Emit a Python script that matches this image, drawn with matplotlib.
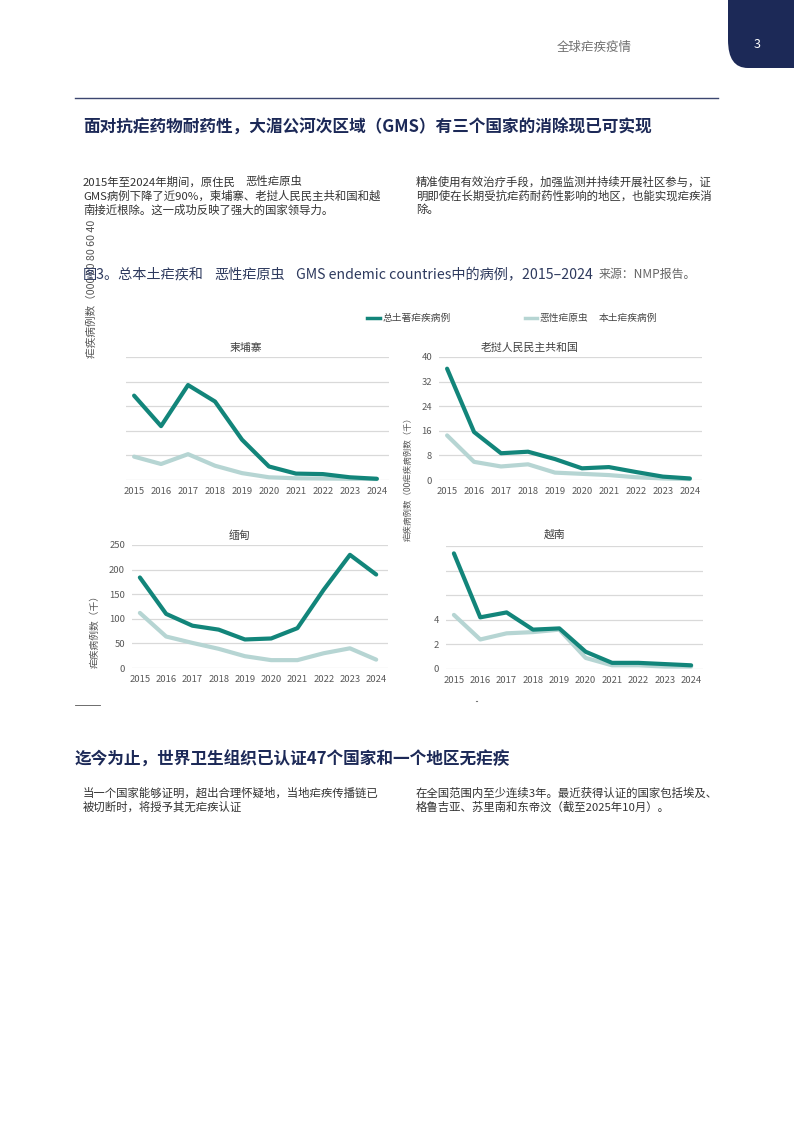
import matplotlib
matplotlib.use("Agg")
import matplotlib.pyplot as plt
from matplotlib.patches import FancyBboxPatch

plt.rcParams['font.family'] = ['Noto Sans CJK SC', 'DejaVu Sans']

# data (thousands of cases)
years = [2015, 2016, 2017, 2018, 2019, 2020, 2021, 2022, 2023, 2024]
cambodia_total = [34.3, 21.9, 38.6, 31.9, 16.4, 5.5, 2.6, 2.4, 1.1, 0.5]
cambodia_pf = [9.5, 6.5, 10.5, 5.8, 2.8, 1.1, 0.7, 0.6, 0.5, 0.4]
lao_total = [36.2, 15.6, 8.7, 9.2, 6.8, 3.8, 4.2, 2.6, 1.1, 0.5]
lao_pf = [14.5, 5.9, 4.4, 5.1, 2.4, 2.0, 1.6, 0.9, 0.5, 0.3]
myanmar_total = [184, 110, 86, 78, 58, 60, 81, 159, 230, 190]
myanmar_pf = [112, 64, 51, 39, 24, 16, 16, 30, 40, 17]
vietnam_total = [9.4, 4.2, 4.6, 3.2, 3.3, 1.4, 0.5, 0.5, 0.4, 0.3]
vietnam_pf = [4.4, 2.4, 2.9, 3.0, 3.2, 0.9, 0.3, 0.3, 0.2, 0.2]

TEAL = "#12857a"
LIGHT = "#b6d5d3"
NAVY = "#1c2957"
GREY = "#595959"

W, H = 794, 1123
fig = plt.figure(figsize=(W / 100, H / 100), dpi=100)
fig.patch.set_facecolor("white")


def px(x, y):
    return x / W, 1 - y / H


def put(x, y, s, **kw):
    fx, fy = px(x, y)
    fig.text(fx, fy, s, **kw)


# header tab
tab = FancyBboxPatch((px(728, 0)[0], px(0, 68)[1]), 0.2, 0.2,
                     boxstyle="round,pad=0,rounding_size=0.025",
                     transform=fig.transFigure, facecolor=NAVY, edgecolor="none")
fig.patches.append(tab)
put(757, 45, "3", color="white", fontsize=9, ha="center", va="center")
put(594, 47, "全球疟疾疫情", color="#6f6f6f", fontsize=9, ha="center", va="center")
fig.add_artist(plt.Line2D([75 / W, 718 / W], [px(0, 98)[1]] * 2,
                          color="#3c4770", lw=1.0, transform=fig.transFigure))

# section 1
put(83, 128, "面对抗疟药物耐药性，大湄公河次区域（GMS）有三个国家的消除现已可实现",
    color=NAVY, fontsize=12, fontweight="bold", va="center")
body_kw = dict(color="#333333", fontsize=8.2, va="center")
put(83, 182, "2015年至2024年期间，原住民", **body_kw)
put(245, 182, "恶性疟原虫", style="italic", **body_kw)
put(83, 196, "GMS病例下降了近90%，柬埔寨、老挝人民民主共和国和越", **body_kw)
put(83, 210, "南接近根除。这一成功反映了强大的国家领导力。", **body_kw)
put(416, 182, "精准使用有效治疗手段，加强监测并持续开展社区参与，证", **body_kw)
put(416, 196, "明即使在长期受抗疟药耐药性影响的地区，也能实现疟疾消", **body_kw)
put(416, 210, "除。", **body_kw)

# left vertical axis fragment
put(92, 358, "疟疾病例数（000 00 80 60 40", rotation=90, color="#555555",
    fontsize=7.7, ha="center", va="bottom")

# caption
cap_kw = dict(color="#2e3a5e", fontsize=10.2, va="center")
put(83, 275, "图3。总本土疟疾和", **cap_kw)
put(214, 275, "恶性疟原虫", style="italic", **cap_kw)
put(296, 275, "GMS endemic countries中的病例，2015–2024", **cap_kw)
put(599, 274, "来源：NMP报告。", color="#666666", fontsize=8.6, va="center", style="italic")

# legend
fig.add_artist(plt.Line2D([367 / W, 380 / W], [px(0, 318)[1]] * 2, color=TEAL, lw=2.5,
                          transform=fig.transFigure))
put(383, 318, "总土著疟疾病例", color="#444444", fontsize=7, va="center")
fig.add_artist(plt.Line2D([525 / W, 537 / W], [px(0, 318)[1]] * 2, color=LIGHT, lw=2.5,
                          transform=fig.transFigure))
put(540, 318, "恶性疟原虫", color="#444444", fontsize=7, va="center", style="italic")
put(599, 318, "本土疟疾病例", color="#444444", fontsize=7, va="center")


def panel(x0, x1, y0, y1, total, pf, top, step, labels, title, tx, ty):
    l, b = px(x0, y1)
    ax = fig.add_axes([l, b, (x1 - x0) / W, (y1 - y0) / H])
    ax.plot(years, pf, color=LIGHT, lw=3.0, solid_capstyle="round", clip_on=False)
    ax.plot(years, total, color=TEAL, lw=3.0, solid_capstyle="round", clip_on=False)
    ax.set_xlim(2014.7, 2024.45)
    ax.set_ylim(0, top)
    ticks = [i * step for i in range(int(round(top / step)) + 1)]
    ax.set_yticks(ticks)
    if labels is None:
        ax.set_yticklabels([])
    else:
        ax.set_yticklabels([str(t) if t in labels else "" for t in ticks])
    ax.set_xticks(years)
    ax.set_xticklabels([str(y) for y in years])
    ax.grid(axis="y", color="#d9d9d9", lw=0.9)
    ax.set_axisbelow(True)
    for s in ax.spines.values():
        s.set_visible(False)
    ax.tick_params(length=0, labelsize=6.8, colors=GREY, pad=5)
    put(tx, ty, title, color="#404040", fontsize=7.8, ha="center", va="center")
    return ax


panel(126, 389, 357, 480, cambodia_total, cambodia_pf, 50, 10, None, "柬埔寨", 246, 348)
panel(439, 702, 357, 480, lao_total, lao_pf, 40, 8, [0, 8, 16, 24, 32, 40],
      "老挝人民民主共和国", 530, 348)
panel(132, 388, 545, 668, myanmar_total, myanmar_pf, 250, 50, [0, 50, 100, 150, 200, 250],
      "缅甸", 240, 536)
panel(446, 703, 546, 669, vietnam_total, vietnam_pf, 10, 2, [0, 2, 4], "越南", 555, 535)

# axis label fragments
put(95, 668, "疟疾病例数（千）", rotation=90, color="#555555", fontsize=7,
    ha="center", va="bottom")
put(408, 541, "疟疾病例数（00疟疾病例数（千）", rotation=90, color="#555555",
    fontsize=6.1, ha="center", va="bottom")
fig.add_artist(plt.Line2D([75 / W, 100 / W], [px(0, 705)[1]] * 2, color="#555555", lw=0.6,
                          transform=fig.transFigure))
fig.add_artist(plt.Line2D([476 / W, 477 / W], [px(0, 701)[1]] * 2, color="#777777", lw=0.8,
                          transform=fig.transFigure))

# section 2
put(75, 760, "迄今为止，世界卫生组织已认证47个国家和一个地区无疟疾",
    color=NAVY, fontsize=12, fontweight="bold", va="center")
put(83, 793, "当一个国家能够证明，超出合理怀疑地，当地疟疾传播链已", **body_kw)
put(83, 807, "被切断时，将授予其无疟疾认证", **body_kw)
put(416, 793, "在全国范围内至少连续3年。最近获得认证的国家包括埃及、", **body_kw)
put(416, 807, "格鲁吉亚、苏里南和东帝汶（截至2025年10月）。", **body_kw)

fig.savefig("out.png", dpi=100)
